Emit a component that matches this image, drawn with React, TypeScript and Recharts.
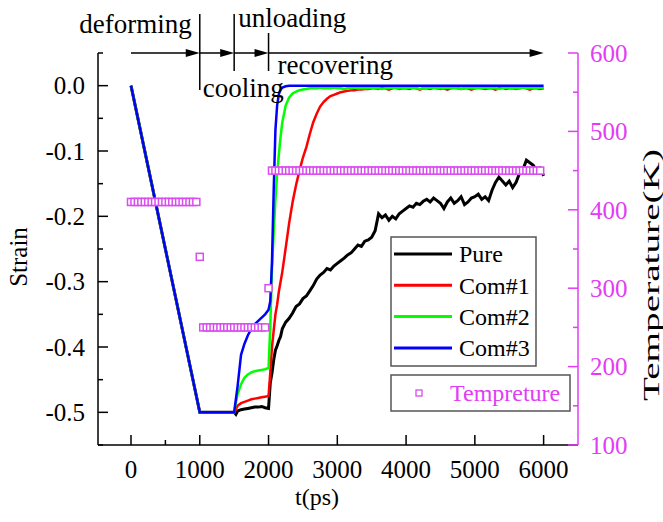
import { ComposedChart, Line, XAxis, YAxis, ReferenceLine } from "recharts";

const SERIF = '"Liberation Serif", "Times New Roman", serif';
const PINK = "#e23cf4";
const MARKER = "#d94cef";

// compression to -0.5 over 1000 ps, then held
const loadTime = [0, 1000, 1500];
const loadStrain = [0, -0.5, -0.5];

// cooling stage (load still on)
const coolTime = [1525, 1550, 1600, 1650, 1700, 1750, 1800, 1850, 1900, 1950, 2000];
const pureCool = [-0.503, -0.498, -0.496, -0.495, -0.494, -0.493, -0.492, -0.492, -0.491, -0.493, -0.494];
const com1Cool = [-0.495, -0.49, -0.486, -0.484, -0.482, -0.48, -0.479, -0.478, -0.477, -0.476, -0.475];
const com2Cool = [-0.485, -0.472, -0.457, -0.447, -0.442, -0.439, -0.437, -0.436, -0.435, -0.434, -0.432];
const com3Cool = [-0.48, -0.46, -0.412, -0.395, -0.382, -0.372, -0.365, -0.36, -0.355, -0.35, -0.343];

// unloading + shape recovery after 2000 ps
const recoverTime = [
  2025, 2050, 2075, 2100, 2125, 2150, 2175, 2200,
  2250, 2300, 2350, 2400, 2450, 2500, 2550, 2600, 2650, 2700,
  2750, 2800, 2850, 2900, 2950, 3000, 3050, 3100, 3150, 3200,
  3250, 3300, 3350, 3400, 3450, 3500, 3550, 3600, 3650, 3700,
  3750, 3800, 3850, 3900, 3950, 4000, 4050, 4100, 4150, 4200,
  4250, 4300, 4350, 4400, 4450, 4500, 4550, 4600, 4650, 4700,
  4750, 4800, 4850, 4900, 4950, 5000, 5050, 5100, 5150, 5200,
  5250, 5300, 5350, 5400, 5450, 5500, 5550, 5600, 5650, 5700,
  5750, 5800, 5850, 5900, 5950, 6000,
];
const pureRecover = [
  -0.455, -0.44, -0.42, -0.405, -0.398, -0.39, -0.384, -0.372,
  -0.362, -0.356, -0.348, -0.338, -0.334, -0.326, -0.322, -0.314, -0.306, -0.296,
  -0.29, -0.286, -0.28, -0.282, -0.276, -0.272, -0.268, -0.264, -0.259, -0.256,
  -0.25, -0.244, -0.246, -0.238, -0.236, -0.232, -0.222, -0.196, -0.202, -0.198,
  -0.206, -0.2, -0.204, -0.196, -0.192, -0.188, -0.184, -0.186, -0.18, -0.182,
  -0.177, -0.174, -0.178, -0.172, -0.176, -0.18, -0.188, -0.178, -0.172, -0.18,
  -0.176, -0.17, -0.182, -0.178, -0.172, -0.17, -0.166, -0.174, -0.17, -0.176,
  -0.16, -0.148, -0.14, -0.146, -0.152, -0.146, -0.156, -0.148, -0.134, -0.128,
  -0.114, -0.118, -0.122, -0.13, -0.126, -0.138,
];
const com1Recover = [
  -0.44, -0.4, -0.375, -0.35, -0.335, -0.315, -0.3, -0.285,
  -0.248, -0.21, -0.178, -0.152, -0.13, -0.11, -0.094, -0.074, -0.056, -0.043,
  -0.032, -0.025, -0.02, -0.016, -0.014, -0.012, -0.01, -0.009, -0.008, -0.007,
  -0.007, -0.006, -0.006, -0.005, -0.005, -0.004, -0.004, -0.005, -0.003, -0.004,
  -0.006, -0.004, -0.003, -0.005, -0.004, -0.004, -0.005, -0.003, -0.004, -0.006,
  -0.004, -0.004, -0.005, -0.003, -0.004, -0.005, -0.004, -0.006, -0.004, -0.003,
  -0.004, -0.005, -0.004, -0.004, -0.006, -0.004, -0.003, -0.004, -0.005, -0.004,
  -0.004, -0.006, -0.004, -0.003, -0.005, -0.004, -0.004, -0.005, -0.004, -0.003,
  -0.004, -0.006, -0.004, -0.004, -0.005, -0.004,
];
const com2Recover = [
  -0.37, -0.28, -0.225, -0.175, -0.135, -0.105, -0.078, -0.056,
  -0.03, -0.018, -0.012, -0.009, -0.007, -0.006, -0.005, -0.004, -0.004, -0.004,
  -0.003, -0.004, -0.004, -0.004, -0.003, -0.004, -0.004, -0.005, -0.004, -0.004,
  -0.003, -0.004, -0.004, -0.004, -0.004, -0.003, -0.004, -0.004, -0.005, -0.004,
  -0.004, -0.003, -0.004, -0.004, -0.004, -0.004, -0.003, -0.004, -0.004, -0.005,
  -0.004, -0.004, -0.003, -0.004, -0.004, -0.004, -0.004, -0.003, -0.004, -0.004,
  -0.004, -0.005, -0.004, -0.003, -0.004, -0.004, -0.004, -0.004, -0.003, -0.004,
  -0.004, -0.004, -0.005, -0.004, -0.003, -0.004, -0.004, -0.004, -0.004, -0.003,
  -0.004, -0.004, -0.004, -0.004, -0.003, -0.004,
];
const com3RecoverTime = [2025, 2050, 2075, 2100, 2125, 2150, 2175, 2200, 2250, 2300, 6000];
const com3Recover = [-0.33, -0.27, -0.16, -0.068, -0.03, -0.013, -0.006, -0.003, -0.001, 0, 0];

// temperature schedule (K)
const tempTime = [
  0, 50, 100, 150, 200, 250, 300, 350, 400, 450,
  500, 550, 600, 650, 700, 750, 800, 850, 900, 950,
  1000, 1050, 1100, 1150, 1200, 1250, 1300, 1350, 1400, 1450,
  1500, 1550, 1600, 1650, 1700, 1750, 1800, 1850, 1900, 1950,
  2000, 2050, 2100, 2150, 2200, 2250, 2300, 2350, 2400, 2450,
  2500, 2550, 2600, 2650, 2700, 2750, 2800, 2850, 2900, 2950,
  3000, 3050, 3100, 3150, 3200, 3250, 3300, 3350, 3400, 3450,
  3500, 3550, 3600, 3650, 3700, 3750, 3800, 3850, 3900, 3950,
  4000, 4050, 4100, 4150, 4200, 4250, 4300, 4350, 4400, 4450,
  4500, 4550, 4600, 4650, 4700, 4750, 4800, 4850, 4900, 4950,
  5000, 5050, 5100, 5150, 5200, 5250, 5300, 5350, 5400, 5450,
  5500, 5550, 5600, 5650, 5700, 5750, 5800, 5850, 5900, 5950,
];
const tempK = [
  410, 410, 410, 410, 410, 410, 410, 410, 410, 410,
  410, 410, 410, 410, 410, 410, 410, 410, 410, 410,
  340, 250, 250, 250, 250, 250, 250, 250, 250, 250,
  250, 250, 250, 250, 250, 250, 250, 250, 250, 250,
  300, 450, 450, 450, 450, 450, 450, 450, 450, 450,
  450, 450, 450, 450, 450, 450, 450, 450, 450, 450,
  450, 450, 450, 450, 450, 450, 450, 450, 450, 450,
  450, 450, 450, 450, 450, 450, 450, 450, 450, 450,
  450, 450, 450, 450, 450, 450, 450, 450, 450, 450,
  450, 450, 450, 450, 450, 450, 450, 450, 450, 450,
  450, 450, 450, 450, 450, 450, 450, 450, 450, 450,
  450, 450, 450, 450, 450, 450, 450, 450, 450, 450,
];

// process stages drawn as arrows above the plot
const phaseNames = ["deforming", "cooling", "unloading", "recovering"];
const phaseStart = [0, 1000, 1500, 2000];
const phaseEnd = [1000, 1500, 2000, 6000];

const timeTicks = [0, 500, 1000, 1500, 2000, 2500, 3000, 3500, 4000, 4500, 5000, 5500, 6000];
const strainTicks = [-0.55, -0.5, -0.45, -0.4, -0.35, -0.3, -0.25, -0.2, -0.15, -0.1, -0.05, 0, 0.05];
const tempTicks = [100, 150, 200, 250, 300, 350, 400, 450, 500, 550, 600];

const toPoints = (times: number[], values: number[]) => times.map((t, i) => ({ t, v: values[i] }));
const loadPoints = toPoints(loadTime, loadStrain);

const series = [
  { name: "Pure", color: "#000000", width: 3, data: [...loadPoints, ...toPoints(coolTime, pureCool), ...toPoints(recoverTime, pureRecover)] },
  { name: "Com#1", color: "#ff0000", width: 2.5, data: [...loadPoints, ...toPoints(coolTime, com1Cool), ...toPoints(recoverTime, com1Recover)] },
  { name: "Com#2", color: "#00ff00", width: 2.5, data: [...loadPoints, ...toPoints(coolTime, com2Cool), ...toPoints(recoverTime, com2Recover)] },
  { name: "Com#3", color: "#0000ff", width: 2.5, data: [...loadPoints, ...toPoints(coolTime, com3Cool), ...toPoints(com3RecoverTime, com3Recover)] },
];
const tempData = toPoints(tempTime, tempK);

// label placement around each stage arrow, px relative to the arrow
const stageLabel = [
  { at: "end", dx: -8, dy: -20, anchor: "end" },
  { at: "start", dx: 3, dy: 44, anchor: "start" },
  { at: "start", dx: 4, dy: -26, anchor: "start" },
  { at: "start", dx: 9, dy: 21, anchor: "start" },
];
const stageBar = [null, [-39, 37], [-39, 18], [-20, 18]];

const isMajor = (v: number, step: number) => Math.abs(v / step - Math.round(v / step)) < 1e-6;

function StrainTick({ x, y, payload }: any) {
  const major = isMajor(payload.value, 0.1);
  return (
    <g>
      <line x1={x} y1={y} x2={x + (major ? 10 : 5)} y2={y} stroke="#000" strokeWidth={1.5} />
      {major && (
        <text x={x - 13} y={y} dy="0.35em" textAnchor="end" fontFamily={SERIF} fontSize={25} fill="#000">
          {payload.value.toFixed(1)}
        </text>
      )}
    </g>
  );
}

function TempTick({ x, y, payload }: any) {
  const major = isMajor(payload.value, 100);
  return (
    <g>
      <line x1={x} y1={y} x2={x - (major ? 10 : 5)} y2={y} stroke={PINK} strokeWidth={1.5} />
      {major && (
        <text x={x + 12} y={y} dy="0.35em" textAnchor="start" fontFamily={SERIF} fontSize={25} fill={PINK}>
          {payload.value}
        </text>
      )}
    </g>
  );
}

function TimeTick({ x, y, payload }: any) {
  const major = isMajor(payload.value, 1000);
  return (
    <g>
      <line x1={x} y1={y} x2={x} y2={y - (major ? 10 : 5)} stroke="#000" strokeWidth={1.5} />
      {major && (
        <text x={x} y={y + 33} textAnchor="middle" fontFamily={SERIF} fontSize={25} fill="#000">
          {payload.value}
        </text>
      )}
    </g>
  );
}

const TempSquare = ({ cx, cy, index }: any) => (
  <rect key={index} x={cx - 3.5} y={cy - 3.5} width={7} height={7} fill="#fff" stroke={MARKER} strokeWidth={1.5} />
);

function stageArrow(p: any, i: number) {
  const { x1, y1, x2 } = p;
  const lab = stageLabel[i];
  const bar = stageBar[i];
  return (
    <g>
      <line x1={x1} y1={y1} x2={x2 - 10} y2={y1} stroke="#000" strokeWidth={1.5} />
      <polygon points={`${x2},${y1} ${x2 - 14},${y1 - 4} ${x2 - 14},${y1 + 4}`} fill="#000" />
      {bar && <line x1={x1} y1={y1 + bar[0]} x2={x1} y2={y1 + bar[1]} stroke="#000" strokeWidth={1.5} />}
      <text
        x={(lab.at === "end" ? x2 : x1) + lab.dx}
        y={y1 + lab.dy}
        textAnchor={lab.anchor as any}
        fontFamily={SERIF}
        fontSize={27}
        fill="#000"
      >
        {phaseNames[i]}
      </text>
    </g>
  );
}

export default function App() {
  return (
    <div style={{ position: "absolute", left: 0, top: 0, width: 663, height: 522, background: "#fff" }}>
      <ComposedChart width={663} height={522} margin={{ top: 53, right: 25, bottom: 37, left: 38 }}>
        <XAxis
          dataKey="t"
          type="number"
          domain={[-480, 6500]}
          ticks={timeTicks}
          allowDataOverflow
          height={40}
          tickSize={0}
          tickMargin={0}
          tickLine={false}
          tick={<TimeTick />}
          axisLine={{ stroke: "#000", strokeWidth: 1.5 }}
        />
        <YAxis
          yAxisId="left"
          type="number"
          domain={[-0.55, 0.05]}
          ticks={strainTicks}
          allowDataOverflow
          width={60}
          tickSize={0}
          tickMargin={0}
          tickLine={false}
          tick={<StrainTick />}
          axisLine={{ stroke: "#000", strokeWidth: 1.5 }}
        />
        <YAxis
          yAxisId="temp"
          orientation="right"
          type="number"
          domain={[100, 600]}
          ticks={tempTicks}
          allowDataOverflow
          width={60}
          tickSize={0}
          tickMargin={0}
          tickLine={false}
          tick={<TempTick />}
          axisLine={{ stroke: PINK, strokeWidth: 1.5 }}
        />
        <Line
          yAxisId="temp"
          data={tempData}
          dataKey="v"
          stroke="none"
          dot={TempSquare}
          activeDot={false}
          isAnimationActive={false}
        />
        {series.map((s) => (
          <Line
            key={s.name}
            yAxisId="left"
            type="linear"
            data={s.data}
            dataKey="v"
            name={s.name}
            stroke={s.color}
            strokeWidth={s.width}
            dot={false}
            activeDot={false}
            isAnimationActive={false}
          />
        ))}
        {phaseNames.map((name, i) => (
          <ReferenceLine
            key={name}
            yAxisId="left"
            ifOverflow="visible"
            segment={[
              { x: phaseStart[i], y: 0.05 },
              { x: phaseEnd[i], y: 0.05 },
            ]}
            shape={(p: any) => stageArrow(p, i)}
          />
        ))}
      </ComposedChart>

      <svg width={663} height={522} style={{ position: "absolute", left: 0, top: 0, pointerEvents: "none" }}>
        <text transform="translate(18,257) rotate(-90)" textAnchor="middle" dy="0.35em" fontFamily={SERIF} fontSize={25}>
          Strain
        </text>
        <text x={317} y={497} textAnchor="middle" dy="0.35em" fontFamily={SERIF} fontSize={24}>
          t(ps)
        </text>
        <text
          transform="translate(651,275) rotate(-90)"
          textAnchor="middle"
          dy="0.35em"
          fontFamily={SERIF}
          fontSize={24}
          textLength={252}
          lengthAdjust="spacingAndGlyphs"
        >
          Temperature(K)
        </text>

        <rect x={391} y={237} width={145} height={129} fill="#fff" stroke="#555" strokeWidth={1.5} />
        {series.map((s, i) => (
          <g key={s.name}>
            <line x1={394} y1={254 + i * 31.3} x2={452} y2={254 + i * 31.3} stroke={s.color} strokeWidth={3} />
            <text x={459} y={254 + i * 31.3} dy="0.35em" fontFamily={SERIF} fontSize={24} fill="#000">
              {s.name}
            </text>
          </g>
        ))}

        <rect x={391} y={375} width={179} height={36} fill="#fff" stroke="#555" strokeWidth={1.5} />
        <rect x={416} y={390} width={6} height={6} fill="#fff" stroke={MARKER} strokeWidth={1.3} />
        <text x={450} y={393} dy="0.35em" fontFamily={SERIF} fontSize={24} fill={PINK}>
          Tempreture
        </text>
      </svg>
    </div>
  );
}
